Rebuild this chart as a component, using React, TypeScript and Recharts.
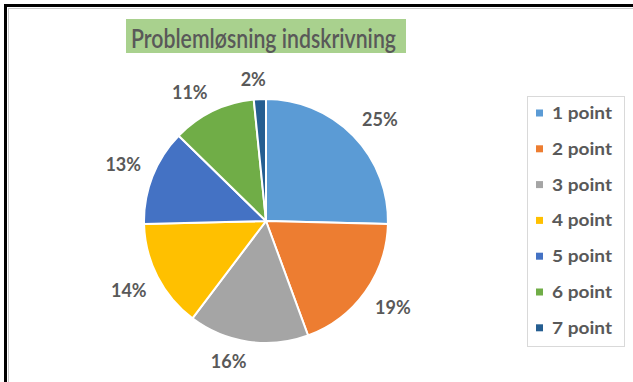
import React from 'react';
import { PieChart, Pie, Cell, Legend } from 'recharts';

const title = 'Problemløsning indskrivning';
const categories = ['1 point', '2 point', '3 point', '4 point', '5 point', '6 point', '7 point'];
const values = [25.4, 19.0, 15.9, 14.3, 12.7, 11.1, 1.6];
const colors = ['#5B9BD5', '#ED7D31', '#A5A5A5', '#FFC000', '#4472C4', '#70AD47', '#255E91'];

const data = categories.map((name, i) => ({ name, value: values[i] }));
const RAD = Math.PI / 180;
const FONT = 'Lato, "Open Sans", sans-serif';
const TEXT = '#595959';

const clamp = (v: number) => Math.max(-1, Math.min(1, v));

const renderLabel = (props: any) => {
  const { cx, cy, midAngle, outerRadius, index } = props;
  const dx = Math.cos(-midAngle * RAD);
  const dy = Math.sin(-midAngle * RAD);
  const g = 12;
  const hw = 18;
  const hh = 8;
  const x = cx + dx * (outerRadius + g) + clamp(dx / 0.15) * hw;
  const y = cy + dy * (outerRadius + g) + clamp(dy / 0.35) * hh;
  return (
    <text
      x={x}
      y={y + 6.5}
      textAnchor="middle"
      fill={TEXT}
      fontFamily={FONT}
      fontWeight={700}
      fontSize={18}
    >
      {`${Math.round(values[index])}%`}
    </text>
  );
};

const renderLegend = () => (
  <svg width={98} height={251} style={{ display: 'block' }}>
    <rect x={0.5} y={0.5} width={97} height={250} fill="#fff" stroke="#D9D9D9" />
    {categories.map((c, i) => {
      const cyRow = 17 + i * 35.8;
      return (
        <g key={c}>
          <rect x={9} y={cyRow - 3.5} width={7} height={7} fill={colors[i]} />
          <text
            x={25}
            y={cyRow + 6}
            fill={TEXT}
            fontFamily={FONT}
            fontWeight={700}
            fontSize={17}
            textLength={60}
            lengthAdjust="spacingAndGlyphs"
          >
            {c}
          </text>
        </g>
      );
    })}
  </svg>
);

export default function App() {
  return (
    <div
      style={{
        position: 'absolute',
        left: 0,
        top: 0,
        width: 633,
        height: 382,
        overflow: 'hidden',
        background: '#fff',
      }}
    >
      <div
        style={{
          position: 'absolute',
          left: 4,
          top: 4,
          width: 700,
          height: 500,
          border: '3px solid #000',
        }}
      />
      <div
        style={{
          position: 'absolute',
          left: 8,
          top: 8,
          width: 700,
          height: 500,
          borderLeft: '1px solid #C8C8C8',
          borderTop: '1px solid #C8C8C8',
        }}
      />
      <div
        style={{
          position: 'absolute',
          left: 126,
          top: 19,
          width: 280,
          height: 34,
          background: '#A9D18E',
        }}
      />
      <svg width={633} height={60} style={{ position: 'absolute', left: 0, top: 0 }}>
        <text
          x={131}
          y={47.5}
          fill={TEXT}
          fontFamily={FONT}
          fontSize={26}
          fontWeight={600}
          textLength={265}
          lengthAdjust="spacingAndGlyphs"
        >
          {title}
        </text>
      </svg>
      <div style={{ position: 'absolute', left: 0, top: 0 }}>
        <PieChart width={633} height={382} margin={{ top: 0, right: 0, bottom: 0, left: 0 }}>
          <Pie
            data={data}
            dataKey="value"
            nameKey="name"
            cx={266}
            cy={221}
            outerRadius={122}
            innerRadius={0}
            startAngle={90}
            endAngle={-270}
            stroke="#fff"
            strokeWidth={2}
            label={renderLabel}
            labelLine={false}
            isAnimationActive={false}
          >
            {data.map((d, i) => (
              <Cell key={d.name} fill={colors[i]} />
            ))}
          </Pie>
          <Legend
            content={renderLegend}
            wrapperStyle={{ position: 'absolute', left: 527, top: 96, width: 98, height: 251 }}
          />
        </PieChart>
      </div>
    </div>
  );
}
